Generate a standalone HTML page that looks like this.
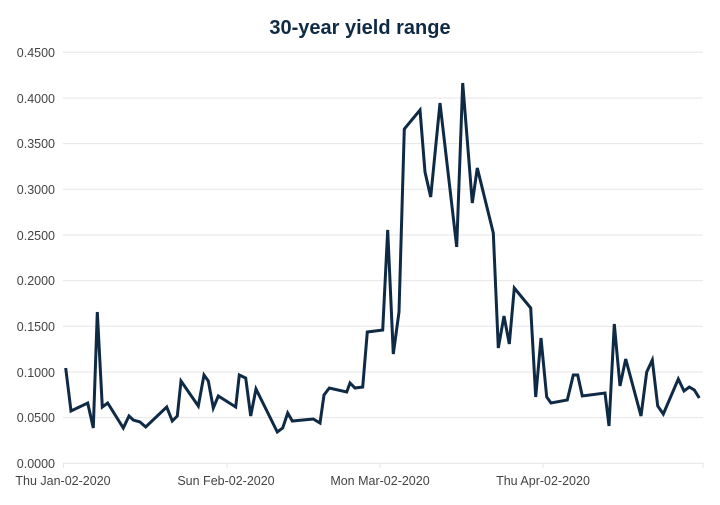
<!DOCTYPE html><html><head><style>body{margin:0;background:#fff}</style></head><body>
<svg width="720" height="500" xmlns="http://www.w3.org/2000/svg" font-family="Liberation Sans, sans-serif">
<rect width="720" height="500" fill="#fff"/>
<text x="360" y="34" text-anchor="middle" font-size="20" font-weight="bold" fill="#0f2a45">30-year yield range</text>
<g stroke="#e6e6e6" stroke-width="1">
<line x1="63" x2="703" y1="52.3" y2="52.3"/><line x1="63" x2="703" y1="98" y2="98"/><line x1="63" x2="703" y1="143.6" y2="143.6"/><line x1="63" x2="703" y1="189.3" y2="189.3"/><line x1="63" x2="703" y1="235" y2="235"/><line x1="63" x2="703" y1="280.6" y2="280.6"/><line x1="63" x2="703" y1="326.3" y2="326.3"/><line x1="63" x2="703" y1="372" y2="372"/><line x1="63" x2="703" y1="417.6" y2="417.6"/><line x1="63" x2="703" y1="463.3" y2="463.3"/>
<line x1="63.5" x2="63.5" y1="463" y2="468"/><line x1="227" x2="227" y1="463" y2="468"/><line x1="380" x2="380" y1="463" y2="468"/><line x1="543" x2="543" y1="463" y2="468"/><line x1="703" x2="703" y1="463" y2="468"/>
</g>
<g font-size="12.5" fill="#444" text-anchor="end">
<text x="55" y="57">0.4500</text><text x="55" y="103">0.4000</text><text x="55" y="148">0.3500</text><text x="55" y="194">0.3000</text><text x="55" y="240">0.2500</text><text x="55" y="285">0.2000</text><text x="55" y="331">0.1500</text><text x="55" y="377">0.1000</text><text x="55" y="422">0.0500</text><text x="55" y="468">0.0000</text>
</g>
<g font-size="12.5" fill="#444" text-anchor="middle">
<text x="63" y="485">Thu  Jan-02-2020</text><text x="226" y="485">Sun  Feb-02-2020</text><text x="380" y="485">Mon  Mar-02-2020</text><text x="543" y="485">Thu  Apr-02-2020</text>
</g>
<polyline fill="none" stroke="#0f2a45" stroke-width="3" stroke-linejoin="miter" points="65.7,368 71,411 87.7,403 93.3,428 97.3,312 102.3,407 107.7,403 123.3,428 129,416 133.3,420 140,422 145.7,427 166.7,407 172.3,421 177.3,416 181,381 198.3,406 204,375 208.3,381 213.3,408 218.3,396 235.7,407 239.3,375 245.7,378 250.7,416 256,389 277.3,432 282.7,428 287.7,413 292.3,421 313.3,419 320,423 324,395 329.3,388 346.7,392 350,383 355,388 362.7,387 367.3,332 382.7,330 387.7,230 393.3,354 399,312 404.3,129 420,110 425,172 430.7,197 440,103 456.7,247 462.7,83 472.3,203 477.3,168 493.3,233 498.3,348 504,316 509.3,344 514.3,288 530.7,308 535.7,397 541,338 546.7,397 551,403 567.3,400 573.3,375 577.7,375 582.3,396 605,393 609,426 614.3,324 620,386 625.7,359 641,416 646.7,372 652.3,360 657.7,406 663.3,414 678.3,379 684,391 689.3,387 694.3,390 699.3,398"/>
</svg>
</body></html>
